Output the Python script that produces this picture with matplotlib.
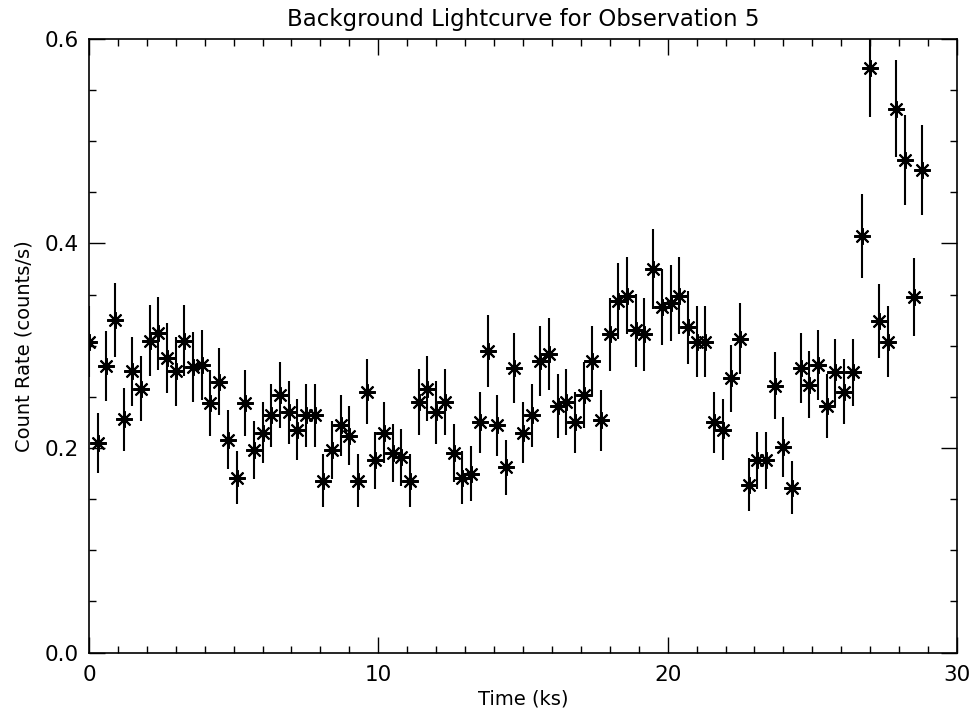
import numpy as np
import matplotlib
matplotlib.use("Agg")
import matplotlib.pyplot as plt

# background lightcurve, 300 s bins
time_ks = [0.0, 0.3, 0.6, 0.9, 1.2, 1.5, 1.8, 2.1, 2.4, 2.7,
           3.0, 3.3, 3.6, 3.9, 4.2, 4.5, 4.8, 5.1, 5.4, 5.7,
           6.0, 6.3, 6.6, 6.9, 7.2, 7.5, 7.8, 8.1, 8.4, 8.7,
           9.0, 9.3, 9.6, 9.9, 10.2, 10.5, 10.8, 11.1, 11.4, 11.7,
           12.0, 12.3, 12.6, 12.9, 13.2, 13.5, 13.8, 14.1, 14.4, 14.7,
           15.0, 15.3, 15.6, 15.9, 16.2, 16.5, 16.8, 17.1, 17.4, 17.7,
           18.0, 18.3, 18.6, 18.9, 19.2, 19.5, 19.8, 20.1, 20.4, 20.7,
           21.0, 21.3, 21.6, 21.9, 22.2, 22.5, 22.8, 23.1, 23.4, 23.7,
           24.0, 24.3, 24.6, 24.9, 25.2, 25.5, 25.8, 26.1, 26.4, 26.7,
           27.0, 27.3, 27.6, 27.9, 28.2, 28.5, 28.8]

rate = [0.304, 0.205, 0.280, 0.325, 0.228, 0.275, 0.258, 0.305, 0.312, 0.288,
        0.275, 0.305, 0.279, 0.281, 0.244, 0.265, 0.208, 0.171, 0.244, 0.198,
        0.215, 0.232, 0.252, 0.235, 0.218, 0.232, 0.232, 0.168, 0.198, 0.222,
        0.212, 0.168, 0.255, 0.188, 0.215, 0.195, 0.191, 0.168, 0.245, 0.258,
        0.235, 0.245, 0.195, 0.171, 0.175, 0.225, 0.295, 0.222, 0.181, 0.278,
        0.215, 0.232, 0.285, 0.292, 0.241, 0.245, 0.225, 0.252, 0.285, 0.227,
        0.311, 0.344, 0.349, 0.315, 0.311, 0.375, 0.338, 0.342, 0.349, 0.318,
        0.304, 0.304, 0.225, 0.218, 0.268, 0.307, 0.164, 0.188, 0.188, 0.261,
        0.201, 0.161, 0.278, 0.262, 0.281, 0.241, 0.274, 0.255, 0.274, 0.407,
        0.572, 0.324, 0.304, 0.532, 0.482, 0.348, 0.472]

rate_err = [0.035, 0.029, 0.034, 0.036, 0.031, 0.034, 0.032, 0.035, 0.036, 0.034,
            0.034, 0.035, 0.034, 0.034, 0.032, 0.033, 0.029, 0.026, 0.032, 0.028,
            0.030, 0.031, 0.032, 0.031, 0.030, 0.031, 0.031, 0.026, 0.028, 0.030,
            0.029, 0.026, 0.032, 0.028, 0.030, 0.028, 0.028, 0.026, 0.032, 0.032,
            0.031, 0.032, 0.028, 0.026, 0.027, 0.030, 0.035, 0.030, 0.027, 0.034,
            0.030, 0.031, 0.034, 0.035, 0.031, 0.032, 0.030, 0.032, 0.034, 0.030,
            0.036, 0.037, 0.038, 0.036, 0.036, 0.039, 0.037, 0.037, 0.038, 0.036,
            0.035, 0.035, 0.030, 0.030, 0.033, 0.035, 0.026, 0.028, 0.028, 0.033,
            0.029, 0.026, 0.034, 0.033, 0.034, 0.031, 0.033, 0.032, 0.033, 0.041,
            0.048, 0.036, 0.035, 0.047, 0.044, 0.038, 0.044]

plt.rcParams['font.family'] = 'DejaVu Sans'

fig = plt.figure(figsize=(9.69, 7.15), dpi=100)
ax = fig.add_axes([0.0918, 0.0874, 0.8958, 0.8581])

ax.errorbar(time_ks, rate, yerr=rate_err, fmt='none', ecolor='black',
            elinewidth=1.5, capsize=0)
ax.plot(time_ks, rate, linestyle='none', marker=(8, 2, 0), markersize=12,
        markeredgewidth=1.5, color='black')

ax.set_xlim(0, 30)
ax.set_ylim(0, 0.6)
ax.set_xticks([0, 10, 20, 30])
ax.set_xticks(np.arange(0, 31, 1), minor=True)
ax.set_yticks([0.0, 0.2, 0.4, 0.6])
ax.set_yticks(np.arange(0, 0.61, 0.05), minor=True)
ax.set_yticklabels(['0.0', '0.2', '0.4', '0.6'])
ax.tick_params(which='both', direction='in', top=True, right=True,
               width=1.0, labelsize=15.5)
ax.tick_params(axis='x', pad=9)
ax.tick_params(axis='y', pad=7)
ax.tick_params(which='major', length=11.5)
ax.tick_params(which='minor', length=5)
for s in ax.spines.values():
    s.set_linewidth(1.2)

ax.set_xlabel('Time (ks)', fontsize=14, labelpad=3)
ax.set_ylabel('Count Rate (counts/s)', fontsize=14, labelpad=8)
ax.set_title('Background Lightcurve for Observation 5', fontsize=16.5, pad=9)

fig.savefig('out.png', dpi=100)
